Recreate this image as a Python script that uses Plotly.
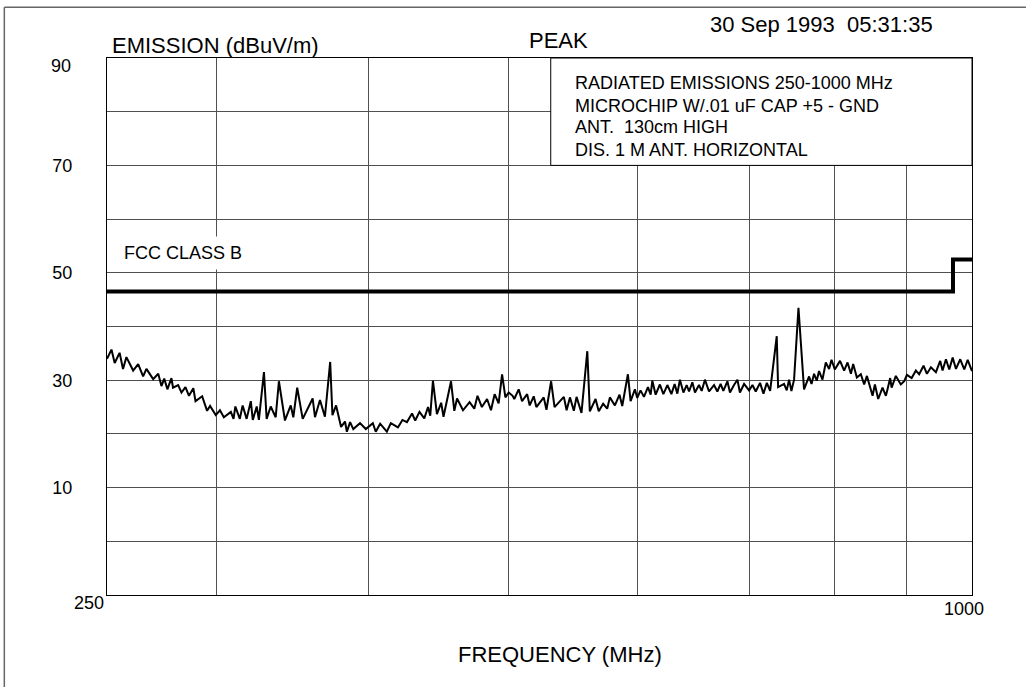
import math
import plotly.graph_objects as go

# ---- data ----
FREQ_MHZ = [
    250.0, 251.8, 253.1, 255.1, 256.5, 257.9, 260.7, 262.8, 264.9, 266.3,
    269.2, 271.4, 272.8, 274.0, 275.4, 277.2, 277.9, 280.2, 281.7, 283.5,
    285.1, 287.1, 288.1, 291.2, 293.5, 294.9, 297.6, 299.6, 301.5, 304.9,
    306.2, 307.1, 309.3, 310.7, 312.7, 314.8, 315.8, 317.8, 318.9, 321.5,
    322.9, 325.0, 327.6, 329.3, 332.5, 335.6, 337.0, 339.1, 342.1, 347.6,
    348.9, 351.7, 354.5, 357.5, 358.8, 360.9, 363.8, 366.1, 367.2, 369.1,
    371.0, 375.0, 378.5, 382.8, 384.6, 387.3, 391.5, 394.0, 398.5, 401.4,
    404.3, 407.6, 409.7, 412.5, 415.7, 418.2, 419.7, 421.5, 424.2, 427.1,
    428.7, 433.9, 436.2, 438.1, 442.3, 447.0, 450.4, 452.7, 455.9, 459.7,
    462.6, 465.3, 468.3,
    470.9, 473.4, 475.9, 478.9, 480.2, 483.6, 486.2, 490.2, 492.2, 495.4,
    497.5, 503.4, 505.6, 509.4, 512.2, 519.9, 522.2, 525.0, 528.3, 530.6,
    534.8, 539.8, 542.0, 547.0, 549.8, 553.7, 557.3, 559.7, 564.2, 568.4,
    570.9, 576.1, 578.6, 582.6, 584.8, 587.9, 591.1, 594.9, 597.5, 599.1,
    602.3, 606.4, 609.8, 613.7, 617.7, 620.9, 623.6, 626.2, 629.7, 633.0,
    635.4, 638.8, 641.5, 645.6, 648.4, 651.8, 656.1, 661.4, 664.9, 668.4,
    671.3, 675.7, 678.5, 682.9, 686.6, 689.4, 694.0, 699.6, 703.4, 707.1,
    712.0, 715.9, 719.8, 723.6, 731.3, 732.9, 739.9, 743.1, 745.9, 748.7,
    751.9, 757.2, 764.0, 770.2, 773.2, 776.4, 779.7, 782.6, 786.9, 791.1,
    795.3, 798.4, 802.6, 809.4, 814.7, 819.2, 823.6, 826.6, 831.5, 836.8,
    841.3, 845.0, 849.5, 852.7, 855.9, 860.4, 866.4, 871.1, 873.4, 877.1,
    879.1, 885.1, 892.2, 897.0, 900.9, 907.8, 914.0, 918.8, 925.3, 930.3,
    936.3, 943.8, 950.3, 953.9, 959.1, 964.2, 969.5, 974.6, 981.3, 987.7,
    993.1, 1000.0,
]
LEVEL_DBUV = [
    34.0, 35.7, 33.2, 35.1, 32.1, 34.3, 31.8, 33.0, 30.7, 32.1,
    30.2, 31.2, 28.9, 30.3, 28.3, 30.4, 28.6, 29.1, 27.7, 28.7,
    27.1, 28.5, 26.1, 27.0, 24.3, 25.2, 23.5, 24.4, 23.1, 24.1,
    22.8, 25.1, 22.8, 25.3, 22.8, 26.1, 22.6, 25.1, 22.6, 31.5,
    22.8, 25.1, 23.1, 29.8, 22.5, 25.3, 23.1, 28.6, 22.8, 26.6,
    23.1, 26.3, 23.2, 33.4, 23.5, 25.3, 21.3, 22.3, 20.4, 22.2,
    20.9, 22.0, 20.9, 22.0, 20.4, 21.9, 20.4, 22.0, 21.2, 22.6,
    22.2, 23.8, 22.5, 24.1, 22.9, 25.0, 23.4, 29.9, 23.7, 25.8,
    23.2, 29.8, 24.3, 26.6, 24.4, 25.9, 24.7, 27.1, 25.0, 26.5,
    24.4, 27.4, 25.7,
    31.1, 26.8, 27.7, 27.1, 26.5, 28.3, 26.1, 27.4, 25.3, 27.0,
    25.0, 26.8, 24.5, 29.8, 25.0, 26.9, 24.4, 26.8, 24.3, 26.9,
    23.9, 35.4, 24.2, 26.5, 24.2, 25.6, 24.7, 26.8, 25.3, 27.3,
    25.2, 31.1, 26.1, 28.3, 26.7, 28.1, 26.9, 28.7, 27.3, 29.9,
    27.3, 29.2, 27.4, 29.1, 27.4, 29.3, 27.5, 30.1, 27.7, 29.1,
    27.9, 29.6, 27.7, 29.1, 28.0, 30.1, 27.9, 29.1, 27.9, 29.3,
    28.0, 29.8, 27.7, 29.1, 30.1, 27.7, 29.3, 28.1, 29.1, 27.9,
    29.5, 27.5, 29.5, 28.0, 38.2, 28.7, 29.3, 28.1, 30.1, 28.0,
    30.1, 43.5, 28.3, 30.7, 29.3, 31.2, 29.9, 31.7, 30.1, 33.3,
    32.1, 33.8, 32.0, 33.6, 31.8, 33.3, 31.2, 33.0, 30.5, 31.1,
    29.2, 30.8, 28.6, 27.1, 29.2, 26.5, 28.6, 27.1, 28.3, 30.4,
    28.6, 30.8, 29.2, 29.8, 31.0, 30.4, 31.8, 31.1, 32.7, 31.2,
    32.4, 31.5, 33.6, 31.8, 33.9, 32.0, 34.2, 32.1, 33.9, 32.0,
    33.8, 31.7,
]
LIMIT_FREQ = [250, 970, 970, 1000]
LIMIT_LEVEL = [46.5, 46.5, 52.5, 52.5]
GRID_FREQ = [298, 380, 476, 585, 700, 802, 900]
Y_GRID = [0, 10, 20, 30, 40, 50, 60, 70, 80, 90]
Y_LABELS = ["", "10", "", "30", "", "50", "", "70", "", ""]
Y_TOP_LABEL = "90"
INFO_LINES = [
    "RADIATED EMISSIONS 250-1000 MHz",
    "MICROCHIP W/.01 uF CAP +5 - GND",
    "ANT.  130cm HIGH",
    "DIS. 1 M ANT. HORIZONTAL",
]
INFO_Y = [85.4, 81.15, 77.1, 72.9]

FONT = "Liberation Sans, Arial, sans-serif"
GRID_COLOR = "#505050"

fig = go.Figure()
fig.add_trace(go.Scatter(x=LIMIT_FREQ, y=LIMIT_LEVEL, mode="lines",
                         line=dict(color="black", width=4), hoverinfo="skip"))
fig.add_trace(go.Scatter(x=FREQ_MHZ, y=LEVEL_DBUV, mode="lines",
                         line=dict(color="black", width=2), hoverinfo="skip"))

annotations = [
    dict(text="EMISSION (dBuV/m)", xref="paper", yref="paper", x=0.0035, y=1.0236,
         xanchor="left", yanchor="middle", showarrow=False, font=dict(size=22)),
    dict(text="PEAK", xref="paper", yref="paper", x=0.4852, y=1.0335,
         xanchor="left", yanchor="middle", showarrow=False, font=dict(size=22)),
    dict(text="30 Sep 1993  05:31:35", xref="paper", yref="paper", x=0.6951, y=1.0633,
         xanchor="left", yanchor="middle", showarrow=False, font=dict(size=22)),
    dict(text="FCC CLASS B", xref="paper", yref="y", x=0.0119, y=53.6,
         xanchor="left", yanchor="middle", showarrow=False, font=dict(size=18),
         bgcolor="white", borderpad=6),
    dict(text=Y_TOP_LABEL, xref="paper", yref="paper", x=-0.0393, y=0.986,
         xanchor="right", yanchor="middle", showarrow=False, font=dict(size=18)),
    dict(text="250", xref="paper", yref="paper", x=0.0, y=-0.0149, xshift=-1,
         xanchor="right", yanchor="middle", showarrow=False, font=dict(size=18)),
    dict(text="1000", xref="paper", yref="paper", x=0.9908, y=-0.0266,
         xanchor="center", yanchor="middle", showarrow=False, font=dict(size=18)),
    dict(text="FREQUENCY (MHz)", xref="paper", yref="paper", x=0.5237, y=-0.1099,
         xanchor="center", yanchor="middle", showarrow=False, font=dict(size=22)),
]
for line, yv in zip(INFO_LINES, INFO_Y):
    annotations.append(dict(text=line, xref="paper", yref="y", x=0.5391, y=yv,
                            xanchor="left", yanchor="middle", showarrow=False,
                            font=dict(size=18)))

shapes = [
    dict(type="rect", xref="paper", yref="y", x0=0.513, x1=1.0, y0=70, y1=90,
         fillcolor="white", line=dict(color="black", width=1), layer="above"),
    dict(type="line", xref="paper", yref="paper", x0=-0.1187, x1=-0.1187,
         y0=-0.1713, y1=1.0944, line=dict(color="#666666", width=1.5)),
    dict(type="line", xref="paper", yref="paper", x0=-0.1187, x1=1.07,
         y0=1.0944, y1=1.0944, line=dict(color="#666666", width=1.5)),
]

fig.update_layout(
    width=1026, height=687,
    margin=dict(l=107, r=54, t=58, b=92),
    paper_bgcolor="white", plot_bgcolor="white",
    showlegend=False,
    font=dict(family=FONT, color="black"),
    annotations=annotations,
    shapes=shapes,
    xaxis=dict(type="log", range=[math.log10(250), math.log10(1000)],
               tickvals=GRID_FREQ, ticktext=[""] * len(GRID_FREQ),
               showgrid=True, gridcolor=GRID_COLOR, gridwidth=1,
               showline=True, mirror=True, linecolor="black", linewidth=1,
               ticks="", zeroline=False, fixedrange=True),
    yaxis=dict(range=[-10, 90], tickvals=Y_GRID, ticktext=Y_LABELS,
               tickfont=dict(size=18, color="black"),
               showgrid=True, gridcolor=GRID_COLOR, gridwidth=1,
               showline=True, mirror=True, linecolor="black", linewidth=1,
               ticks="", zeroline=False, ticklabelstandoff=30, fixedrange=True),
)

fig.write_html(
    "out.html",
    config={"displayModeBar": False},
    post_script="document.body.style.margin='0';document.body.style.overflow='hidden';",
)
